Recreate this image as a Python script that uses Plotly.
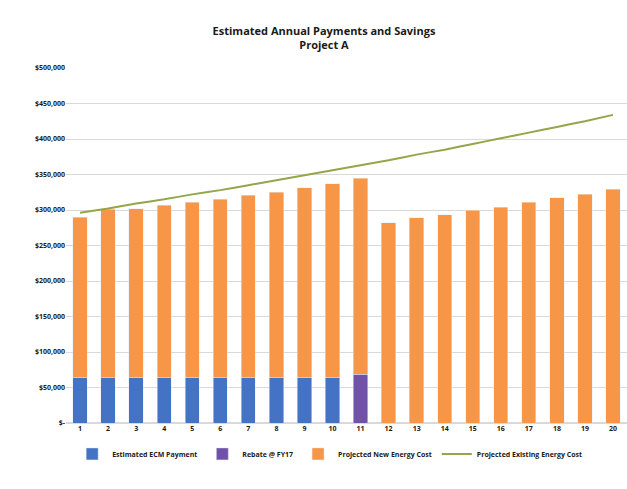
import plotly.graph_objects as go

years = [str(i) for i in range(1, 21)]
ecm_payment = [64000] * 10 + [0] * 10
rebate = [0] * 10 + [69000] + [0] * 9
new_energy = [226000, 237000, 238000, 243000, 247000, 251500, 257000, 261000, 267000, 273000,
              276000, 282000, 289000, 293000, 300000, 304000, 311000, 317000, 322000, 329000]
existing_energy = [296000, 302000, 309000, 315000, 322000, 328000, 335000, 342000, 349000, 356000,
                   363000, 370000, 378000, 385000, 393000, 401000, 409000, 417000, 425000, 434000]
ytick_vals = [0, 50000, 100000, 150000, 200000, 250000, 300000, 350000, 400000, 450000, 500000]
ytick_text = ["<b>$-</b>", "<b>$50,000</b>", "<b>$100,000</b>", "<b>$150,000</b>", "<b>$200,000</b>",
              "<b>$250,000</b>", "<b>$300,000</b>", "<b>$350,000</b>", "<b>$400,000</b>",
              "<b>$450,000</b>", "<b>$500,000</b>"]
xtick_text = ["<b>%s</b>" % y for y in years]

fig = go.Figure()
fig.add_trace(go.Bar(x=years, y=ecm_payment, name="<b>Estimated ECM Payment</b>",
                     marker_color="#4472C4"))
fig.add_trace(go.Bar(x=years, y=rebate, name="<b>Rebate @ FY17</b>",
                     marker_color="#7052A8"))
fig.add_trace(go.Bar(x=years, y=new_energy, name="<b>Projected New Energy Cost</b>",
                     marker_color="#F79646"))
fig.add_trace(go.Scatter(x=years, y=existing_energy, name="<b>Projected Existing Energy Cost</b>",
                         mode="lines", line=dict(color="#93A64A", width=2, shape="spline", smoothing=0.3)))

fig.update_layout(
    width=627, height=489,
    barmode="stack", bargap=0.49,
    plot_bgcolor="white", paper_bgcolor="white",
    margin=dict(l=66, r=0, t=68, b=66),
    font=dict(family="Open Sans", color="#1a1a1a"),
    title=dict(text="<b>Estimated Annual Payments and Savings<br>Project A</b>",
               x=324/627, xanchor="center", xref="container",
               y=1 - 35/489, yanchor="middle", yref="container",
               font=dict(size=11, color="#1a1a1a")),
    showlegend=True,
    legend=dict(orientation="h", x=0.47, xanchor="center", y=-0.087, yanchor="middle",
                font=dict(size=7), traceorder="normal", itemwidth=30,
                tracegroupgap=0),
    xaxis=dict(showgrid=False, tickfont=dict(size=7), ticks="", showline=False,
               ticklen=0, tickvals=years, ticktext=xtick_text),
    yaxis=dict(range=[0, 500000], tickvals=ytick_vals, ticktext=ytick_text,
               gridcolor="#D9D9D9", gridwidth=1, zeroline=True, zerolinecolor="#D9D9D9",
               tickfont=dict(size=7), ticks="", showline=False),
)
fig.write_html("out.html")
